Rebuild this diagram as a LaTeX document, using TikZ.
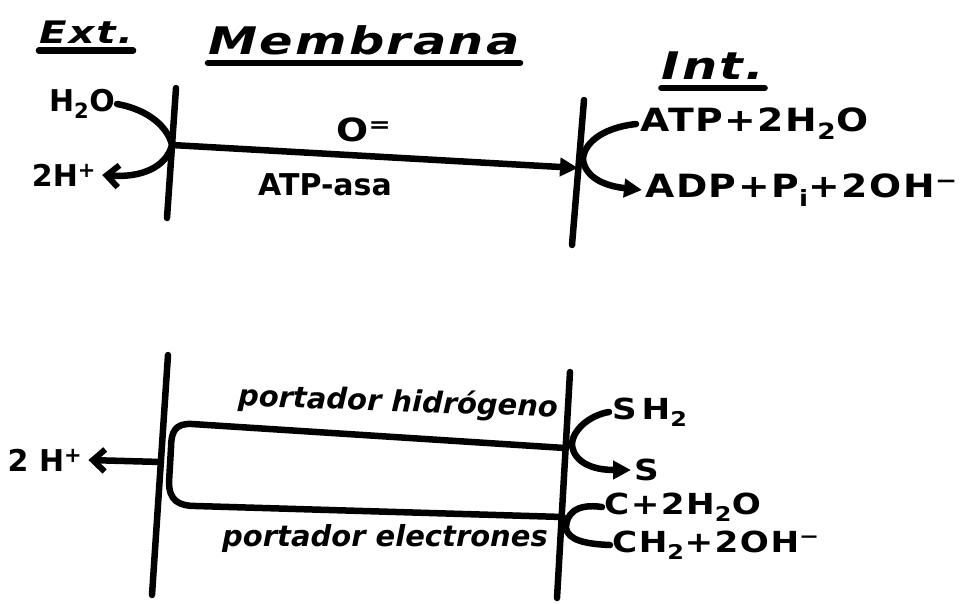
\documentclass[tikz,border=0pt]{standalone}
\usepackage{fontspec}
\setmainfont{DejaVu Sans}
\newfontfamily\wide[FakeStretch=1.18,LetterSpace=5]{DejaVu Sans}
\newfontfamily\titlefont[FakeStretch=1.3,LetterSpace=6]{DejaVu Sans}
\usetikzlibrary{arrows.meta}
\begin{document}
\begin{tikzpicture}[x=1pt,y=-1pt,
  ink/.style={line width=6.5pt,line cap=round,line join=round},
  lbl/.style={inner sep=0pt,font=\bfseries\fontsize{30}{34}\selectfont},
  lblw/.style={inner sep=0pt,font=\wide\bfseries\fontsize{32}{36}\selectfont},
  lbls/.style={inner sep=0pt,font=\wide\bfseries\fontsize{29}{32}\selectfont},
  ttl/.style={inner sep=0pt,font=\titlefont\bfseries\itshape\fontsize{38}{42}\selectfont},
  ttls/.style={inner sep=0pt,font=\titlefont\bfseries\itshape\fontsize{31}{34}\selectfont},
  cur/.style={inner sep=0pt,font=\bfseries\itshape\fontsize{29}{32}\selectfont},
  tri/.style={-{Triangle[length=18pt,width=18pt]}},
  barb/.style={-{Straight Barb[length=12pt,width=22pt,line width=6pt]}}]
\useasboundingbox (0,0) rectangle (968,603);
% titles
\node[ttls] (ext) at (86,32) {Ext.};
\node[ttl] (mem) at (364,40) {Membrana};
\node[ttl] (int) at (713,66) {Int.};
\draw[ink] ([yshift=-7pt]ext.south west) -- ([yshift=-7pt]ext.south east);
\draw[ink] ([yshift=-8pt]mem.south west) -- ([yshift=-8pt]mem.south east);
\draw[ink] ([yshift=-8pt]int.south west) -- ([yshift=-8pt]int.south east);
% top membranes
\coordinate (mLt) at (176,88); \coordinate (mLb) at (167,218);
\coordinate (mRt) at (584,100); \coordinate (mRb) at (572,245);
\draw[ink] (mLt) -- (mLb);
\draw[ink] (mRt) -- (mRb);
% top labels
\node[lbl] (h2o) at (82,104) {H\textsubscript{2}O};
\node[lbl] (h2p) at (64,175) {2H\textsuperscript{+}};
\node[lblw] (o) at (364,130) {O\textsuperscript{=}};
\node[lbl] (atpasa) at (325,185) {ATP-asa};
\node[lblw,anchor=west] (atp) at (640,124) {ATP+2H\textsubscript{2}O};
\node[lblw,anchor=west] (adp) at (645,190) {ADP+P\textsubscript{i}+2OH\textsuperscript{−}};
\coordinate (pL) at (172,145);
\coordinate (pR) at (578,168);
\coordinate (cR) at (583,160);
\draw[ink,tri] (pL) -- (pR);
\draw[ink,barb] ([xshift=2pt]h2o.east) .. controls (150,110) and (168,128) .. (pL)
  .. controls (166,168) and (140,178) .. ([xshift=6pt]h2p.east);
\draw[ink,tri] ([xshift=-4pt]atp.west) .. controls (600,128) and (583,145) .. (cR)
  .. controls (586,178) and (605,186) .. ([xshift=-3pt]adp.west);
% bottom membranes
\coordinate (nLt) at (168,355); \coordinate (nLb) at (152,595);
\coordinate (nRt) at (570,372); \coordinate (nRb) at (557,598);
\draw[ink] (nLt) -- (nLb);
\draw[ink] (nRt) -- (nRb);
% carrier loop
\coordinate (hr) at (565,448);
\coordinate (er) at (563,517);
\coordinate (mb) at (161,462);
\draw[ink] (hr) -- (192,424) .. controls (175,423) and (171,432) .. (171,448)
  -- (169,482) .. controls (169,500) and (178,506) .. (196,506) -- (er);
\node[cur,rotate=-2] (ph) at (398,403) {portador hidrógeno};
\node[cur] (pe) at (385,538) {portador electrones};
% bottom labels
\node[lbl] (h2pb) at (45,460) {2 H\textsuperscript{+}};
\draw[ink,barb] (mb) -- ([xshift=6pt]h2pb.east);
\node[lbls,anchor=west] (sh2) at (612,412) {S\,H\textsubscript{2}};
\node[lbls,anchor=west] (s) at (634,470) {S};
\node[lbls,anchor=west] (c) at (604,507) {C+2H\textsubscript{2}O};
\node[lbls,anchor=west] (ch2) at (612,545) {CH\textsubscript{2}+2OH\textsuperscript{−}};
\draw[ink,tri] ([xshift=-3pt]sh2.west) .. controls (590,415) and (572,430) .. (572,445)
  .. controls (574,462) and (592,470) .. ([xshift=-3pt]s.west);
\draw[ink] ([xshift=-2pt]c.west) .. controls (575,503) and (566,515) .. (566,528)
  .. controls (568,540) and (585,544) .. ([xshift=-2pt]ch2.west);
\end{tikzpicture}
\end{document}
